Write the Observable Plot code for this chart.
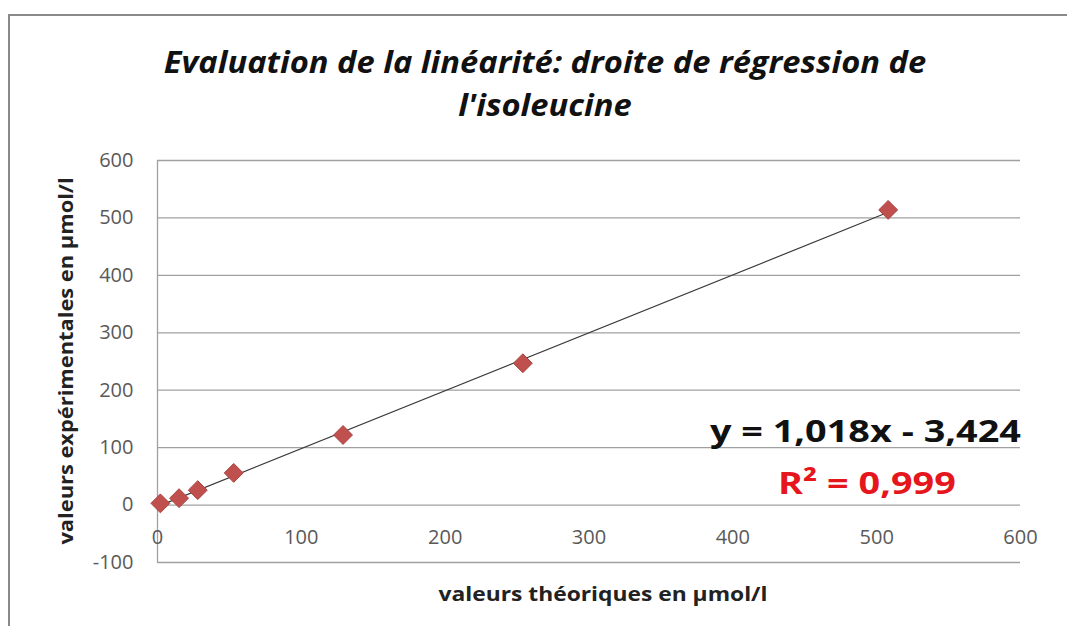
<!DOCTYPE html>
<html>
<head>
<meta charset="utf-8">
<script src="https://cdn.jsdelivr.net/npm/d3@7"></script>
<script src="https://cdn.jsdelivr.net/npm/@observablehq/plot@0.6"></script>
<style>
  html, body { margin: 0; padding: 0; background: #fff; width: 1067px; height: 626px; overflow: hidden; }
  body { position: relative; font-family: "Open Sans", sans-serif; }
  #frame { position: absolute; left: 8px; top: 14px; width: 1200px; height: 700px; border-left: 2px solid #8a8a8a; border-top: 2px solid #8a8a8a; box-sizing: border-box; }
  #title { position: absolute; left: 545px; top: 40px; transform: translateX(-50%) scaleX(1.09); text-align: center; font-weight: 700; font-style: italic; font-size: 30px; line-height: 43px; color: #111; white-space: nowrap; }
  #chart { position: absolute; left: 0; top: 140px; }
  .lab { position: absolute; font-weight: 700; font-size: 19px; line-height: 1; color: #222; white-space: nowrap; }
  #ylab { left: 66px; top: 361px; transform: translate(-50%, -50%) rotate(-90deg) scaleX(1.15); }
  #xlab { left: 603px; top: 594px; transform: translate(-50%, -50%) scaleX(1.2); }
  .eq { position: absolute; font-weight: 700; font-size: 31px; line-height: 1; white-space: nowrap; }
  #eq1 { right: 46px; top: 415px; color: #111; transform: scaleX(1.22); transform-origin: right center; }
  #eq2 { left: 778px; top: 467px; color: #e5161c; transform: scaleX(1.22); transform-origin: left center; }
</style>
</head>
<body>
<div id="frame"></div>
<div id="title">Evaluation de la linéarité: droite de régression de<br>l'isoleucine</div>
<div id="chart"></div>
<div class="lab" id="ylab">valeurs expérimentales en µmol/l</div>
<div class="lab" id="xlab">valeurs théoriques en µmol/l</div>
<div class="eq" id="eq1">y = 1,018x - 3,424</div>
<div class="eq" id="eq2">R² = 0,999</div>
<script>
const theoretical = [2, 15, 28, 53, 129, 254, 508];
const experimental = [3, 12, 26, 56, 122, 247, 514];
const xTicks = [0, 100, 200, 300, 400, 500, 600];
const yTicks = [-100, 0, 100, 200, 300, 400, 500, 600];

const data = theoretical.map((x, i) => ({x, y: experimental[i]}));

const plot = Plot.plot({
  width: 1067,
  height: 486,
  marginTop: 20,
  marginBottom: 64,
  marginLeft: 157,
  marginRight: 47,
  style: {fontFamily: "Open Sans", fontSize: "20px", color: "#595959", background: "transparent", overflow: "visible"},
  x: {domain: [0, 600], axis: null},
  y: {domain: [-100, 600], axis: null},
  marks: [
    Plot.ruleY(yTicks, {stroke: "#a0a0a0", strokeWidth: 1.3}),
    Plot.ruleX([0], {y1: -100, y2: 600, stroke: "#a0a0a0", strokeWidth: 1.3}),
    Plot.text(yTicks, {x: 0, y: d => d, dx: -24, textAnchor: "end", text: d => String(d), fill: "#595959"}),
    Plot.text(xTicks, {x: d => d, y: 0, dy: 33, text: d => String(d), fill: "#595959"}),
    Plot.linearRegressionY(data, {x: "x", y: "y", ci: 0, stroke: "#3a3a3a", strokeWidth: 1.2}),
    Plot.dot(data, {x: "x", y: "y", symbol: "diamond2", r: 8.5, fill: "#c0504d", stroke: "#a8403d", strokeWidth: 1})
  ]
});
document.getElementById("chart").appendChild(plot);
</script>
</body>
</html>
